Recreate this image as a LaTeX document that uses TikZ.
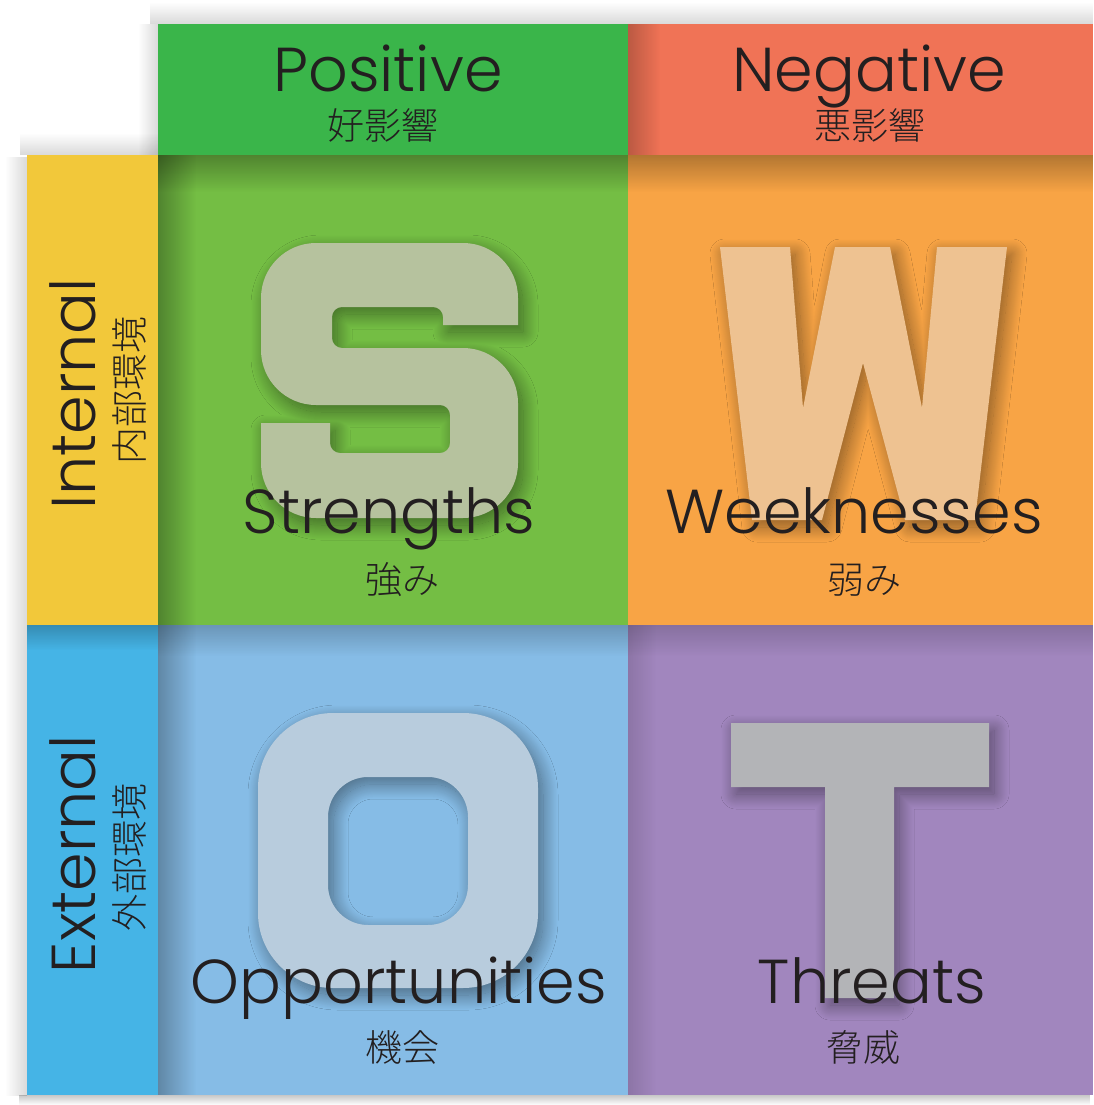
\documentclass[tikz,border=0pt]{standalone}
\usepackage{fontspec}
\usetikzlibrary{shadows.blur, fadings}
\newfontfamily\latinlight{Poppins Light}
\newfontfamily\jpfont{Noto Sans CJK JP Light}

\definecolor{posgreen}{HTML}{3AB54A}
\definecolor{negred}{HTML}{F07356}
\definecolor{intyellow}{HTML}{F2C83A}
\definecolor{extblue}{HTML}{45B4E6}
\definecolor{sgreen}{HTML}{74BE44}
\definecolor{worange}{HTML}{F8A445}
\definecolor{oblue}{HTML}{86BCE6}
\definecolor{tpurple}{HTML}{A186BE}
\definecolor{sletter}{HTML}{B6C29E}
\definecolor{wletter}{HTML}{EEC291}
\definecolor{oletter}{HTML}{B8CCDD}
\definecolor{tletter}{HTML}{B3B4B7}
\definecolor{ink}{HTML}{231F20}

% soft edges: opaque on the named side, clear on the other
\tikzfading[name=fromtop, top color=transparent!0, bottom color=transparent!100]
\tikzfading[name=frombottom, bottom color=transparent!0, top color=transparent!100]
\tikzfading[name=fromleft, left color=transparent!0, right color=transparent!100]
\tikzfading[name=fromright, right color=transparent!0, left color=transparent!100]

\tikzset{
  bigletter/.style={blur shadow={shadow xshift=5pt, shadow yshift=-7pt,
      shadow blur radius=15pt, shadow blur steps=30, shadow opacity=45}},
  castdown/.style={fill=black, path fading=fromtop, fill opacity=#1},
  castright/.style={fill=black, path fading=fromleft, fill opacity=#1},
  castup/.style={fill=black, path fading=frombottom, fill opacity=#1},
  castleft/.style={fill=black, path fading=fromright, fill opacity=#1},
  enlabel/.style={inner sep=0pt, text=ink, font=\latinlight\fontsize{62}{62}\selectfont},
  jplabel/.style={inner sep=0pt, text=ink, font=\jpfont\fontsize{37}{37}\selectfont},
}

\begin{document}
\begin{tikzpicture}[x=1pt, y=-1pt]
  \useasboundingbox (0,0) rectangle (1093,1105);
  \fill[white] (0,0) rectangle (1093,1105);
  \clip (0,0) rectangle (1093,1105);

  % soft shadow of the chart on the page
  \path[castup=.15] (150,2) rectangle (1093,24);
  \path[castleft=.15] (138,24) rectangle (158,155);
  \path[castup=.15] (20,133) rectangle (158,155);
  \path[castleft=.15] (5,155) rectangle (27,1095);
  \path[castdown=.22] (20,1095) rectangle (1093,1105);

  % quadrants
  \fill[sgreen] (158,155) rectangle (628,625);
  \fill[worange] (628,155) rectangle (1093,625);
  \fill[oblue] (158,625) rectangle (628,1095);
  \fill[tpurple] (628,625) rectangle (1093,1095);

  % shade cast by the bars onto the quadrants
  \path[castdown=.30] (158,155) rectangle (628,192);
  \path[castright=.30] (158,155) rectangle (196,625);
  \path[castdown=.28] (628,155) rectangle (1093,192);
  \path[castdown=.20] (158,625) rectangle (628,656);
  \path[castright=.28] (158,625) rectangle (196,1095);
  \path[castdown=.16] (628,625) rectangle (1093,656);
  \path[castright=.12] (628,625) rectangle (656,1095);

  % side bars
  \fill[extblue] (27,625) rectangle (158,1095);
  \path[castdown=.22] (27,625) rectangle (158,650);
  \fill[intyellow] (27,155) rectangle (158,625);

  % header bars
  \fill[negred] (628,24) rectangle (1093,155);
  \path[castright=.22] (628,24) rectangle (660,155);
  \fill[posgreen] (158,24) rectangle (628,155);

  % big letter S
  \path[bigletter, fill=sletter]
    (316,243) -- (463,243) arc[start angle=270, end angle=360, radius=55]
    -- (518,325) -- (443,325) -- (443,317) arc[start angle=0, end angle=-90, radius=10]
    -- (342,307) arc[start angle=270, end angle=180, radius=10]
    -- (332,338) arc[start angle=180, end angle=90, radius=10]
    -- (463,348) arc[start angle=270, end angle=360, radius=55]
    -- (518,463) arc[start angle=0, end angle=90, radius=55]
    -- (316,518) arc[start angle=90, end angle=180, radius=55]
    -- (261,423) -- (330,423) -- (330,443) arc[start angle=180, end angle=90, radius=10]
    -- (440,453) arc[start angle=90, end angle=0, radius=10]
    -- (450,415) arc[start angle=0, end angle=-90, radius=10]
    -- (316,405) arc[start angle=90, end angle=180, radius=55]
    -- (261,298) arc[start angle=180, end angle=270, radius=55] -- cycle;

  % big letter W
  \path[bigletter, fill=wletter]
    (720,247) -- (790,247) -- (803,408) -- (835,247) -- (890,247) -- (922,408)
    -- (937,247) -- (1007,247) -- (975,520) -- (905,520) -- (863,363)
    -- (822,520) -- (752,520) -- cycle;

  % big letter O: outer contour clockwise, counter anticlockwise
  \path[bigletter, fill=oletter]
    (333,713) -- (463,713) arc[start angle=270, end angle=360, radius=75]
    -- (538,913) arc[start angle=0, end angle=90, radius=75]
    -- (333,988) arc[start angle=90, end angle=180, radius=75]
    -- (258,788) arc[start angle=180, end angle=270, radius=75] -- cycle
    (428,777) -- (368,777) arc[start angle=270, end angle=180, radius=40]
    -- (328,885) arc[start angle=180, end angle=90, radius=40]
    -- (428,925) arc[start angle=90, end angle=0, radius=40]
    -- (468,817) arc[start angle=0, end angle=-90, radius=40] -- cycle;

  % big letter T
  \path[bigletter, fill=tletter]
    (731,723) -- (989,723) -- (989,787) -- (894,787) -- (894,998)
    -- (825,998) -- (825,787) -- (731,787) -- cycle;

  % header labels
  \node[enlabel, anchor=base] (pos) at (388,92) {Positive};
  \node[jplabel] (posjp) at (383,125) {好影響};
  \node[enlabel, anchor=base] (neg) at (869,92) {Negative};
  \node[jplabel] (negjp) at (870,125) {悪影響};

  % side labels
  \node[enlabel, anchor=base, rotate=90] (int) at (95,394) {Internal};
  \node[jplabel, rotate=90] (intjp) at (129,390) {内部環境};
  \node[enlabel, anchor=base, rotate=90] (ext) at (95,854) {External};
  \node[jplabel, rotate=90] (extjp) at (129,857) {外部環境};

  % quadrant labels
  \node[enlabel, anchor=base] (str) at (389,533) {Strengths};
  \node[jplabel] (strjp) at (402,580) {強み};
  \node[enlabel, anchor=base] (weak) at (854,533) {Weeknesses};
  \node[jplabel] (weakjp) at (864,580) {弱み};
  \node[enlabel, anchor=base] (opp) at (399,1003) {Opportunities};
  \node[jplabel] (oppjp) at (402,1047) {機会};
  \node[enlabel, anchor=base] (thr) at (872,1003) {Threats};
  \node[jplabel] (thrjp) at (863,1047) {脅威};
\end{tikzpicture}
\end{document}
